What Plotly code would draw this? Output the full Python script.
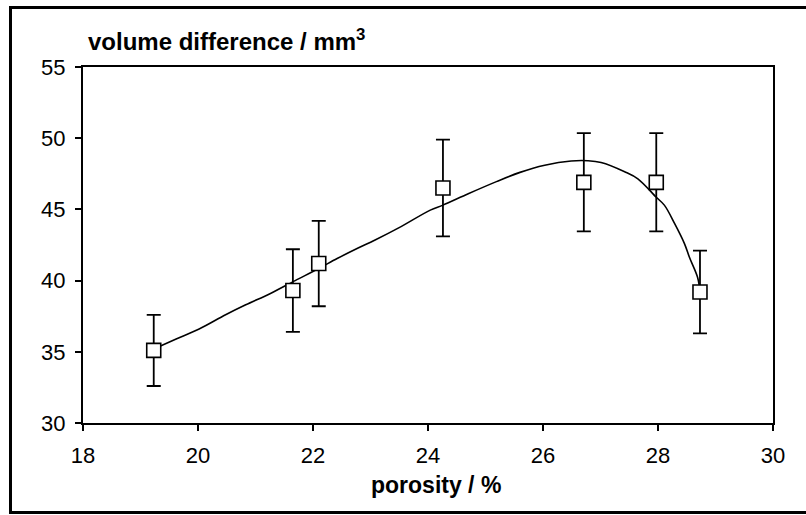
import plotly.graph_objects as go

# measured points
porosity = [19.23, 21.65, 22.10, 24.26, 26.71, 27.97, 28.73]
vol_diff = [35.1, 39.3, 41.2, 46.5, 46.9, 46.9, 39.2]
err = [2.5, 2.9, 3.0, 3.4, 3.45, 3.45, 2.9]

# trend curve
curve_x = [19.23, 19.62, 20.02, 20.48, 20.83, 21.26, 21.69, 22.10, 22.42, 22.74,
           23.08, 23.49, 24.04, 24.26, 24.70, 25.19, 25.60, 26.03, 26.49, 26.78,
           27.01, 27.42, 27.65, 27.97, 28.11, 28.29, 28.46, 28.55, 28.69, 28.73]
curve_y = [35.2, 35.9, 36.6, 37.6, 38.3, 39.1, 40.0, 40.85, 41.55, 42.2,
           42.85, 43.7, 44.95, 45.3, 46.1, 46.95, 47.6, 48.1, 48.4, 48.42,
           48.3, 47.65, 47.15, 45.85, 45.3, 44.0, 42.6, 41.6, 40.2, 39.2]

x_ticks = [18, 20, 22, 24, 26, 28, 30]
y_ticks = [30, 35, 40, 45, 50, 55]

FONT = "Liberation Sans, Arial, sans-serif"

fig = go.Figure()
fig.add_trace(go.Scatter(x=curve_x, y=curve_y, mode="lines",
                         line=dict(color="black", width=1.6, shape="spline"),
                         hoverinfo="skip", showlegend=False))
fig.add_trace(go.Scatter(x=porosity, y=vol_diff, mode="markers",
                         marker=dict(symbol="square", size=14, color="white",
                                     line=dict(color="black", width=1.6)),
                         error_y=dict(type="data", array=err, visible=True,
                                      color="black", thickness=1.8, width=7),
                         showlegend=False))

W, H = 806, 515
L, R, T, B = 83, 33, 67, 92
pw, ph = W - L - R, H - T - B

def px(x):
    return (x - L) / pw

def py(y):
    return (H - B - y) / ph

fig.update_layout(
    width=W, height=H,
    margin=dict(l=L, r=R, t=T, b=B, pad=0),
    paper_bgcolor="white", plot_bgcolor="white",
    font=dict(family=FONT, size=22, color="black"),
    xaxis=dict(range=[18, 30], tickvals=x_ticks, ticks="outside", ticklen=6,
               tickwidth=1.5, tickcolor="black", showline=True, linecolor="black",
               linewidth=2, mirror=True, showgrid=False, zeroline=False,
               tickfont=dict(size=22), ticklabelstandoff=6),
    yaxis=dict(range=[30, 55], tickvals=y_ticks, ticks="outside", ticklen=6,
               tickwidth=1.5, tickcolor="black", showline=True, linecolor="black",
               linewidth=2, mirror=True, showgrid=False, zeroline=False,
               tickfont=dict(size=22), ticklabelstandoff=5),
    annotations=[
        dict(text="<b>volume difference / mm<sup>3</sup></b>", xref="paper", yref="paper",
             x=px(86), y=py(40), xanchor="left", yanchor="middle", showarrow=False,
             font=dict(size=24)),
        dict(text="<b>porosity / %</b>", xref="paper", yref="paper",
             x=px(436), y=py(485), xanchor="center", yanchor="middle", showarrow=False,
             font=dict(size=23)),
    ],
    shapes=[
        dict(type="rect", xref="paper", yref="paper", x0=px(10.5), x1=px(810),
             y0=py(512.5), y1=py(7.5), line=dict(color="black", width=3)),
    ],
)

fig.write_html("out.html")
